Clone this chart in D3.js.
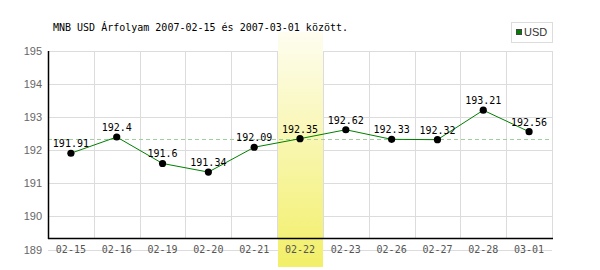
<!DOCTYPE html>
<html>
<head>
<meta charset="utf-8">
<script src="https://d3js.org/d3.v7.min.js"></script>
<style>
  body { margin: 0; background: #fff; }
</style>
</head>
<body>
<div id="chart"></div>
<script>
// data
var days = ["02-15", "02-16", "02-19", "02-20", "02-21", "02-22", "02-23", "02-26", "02-27", "02-28", "03-01"];
var rates = [191.91, 192.4, 191.6, 191.34, 192.09, 192.35, 192.62, 192.33, 192.32, 193.21, 192.56];
var yTicks = [189, 190, 191, 192, 193, 194, 195];
var markedDay = "02-22";
var refRate = 192.35;

var W = 600, H = 270;
var plotL = 48, plotR = 552, plotT = 51, axisY = 238;

var svg = d3.select("#chart").append("svg")
  .attr("width", W).attr("height", H);

var x = d3.scaleBand().domain(days).range([plotL, plotR]);
var y = d3.scaleLinear().domain([189, 195]).range([249.5, plotT]);

// gradient for the highlighted day
var grad = svg.append("defs").append("linearGradient")
  .attr("id", "hl").attr("x1", 0).attr("y1", 0).attr("x2", 0).attr("y2", 1);
grad.append("stop").attr("offset", "0%").attr("stop-color", "#fefdf0");
grad.append("stop").attr("offset", "100%").attr("stop-color", "#f2ef68");

// grid
svg.append("g").selectAll("line")
  .data(yTicks).enter().append("line")
  .attr("x1", plotL).attr("x2", plotR)
  .attr("y1", function(d) { return Math.round(y(d)) + 0.5; })
  .attr("y2", function(d) { return Math.round(y(d)) + 0.5; })
  .attr("stroke", "#dcdcdc").attr("stroke-width", 1);

svg.append("g").selectAll("line")
  .data(days).enter().append("line")
  .attr("x1", function(d) { return Math.round(x(d) + x.step()) + 0.5; })
  .attr("x2", function(d) { return Math.round(x(d) + x.step()) + 0.5; })
  .attr("y1", plotT).attr("y2", axisY)
  .attr("stroke", "#dcdcdc").attr("stroke-width", 1);

// highlighted day band
svg.append("rect")
  .attr("x", Math.round(x(markedDay)) + 1)
  .attr("y", 32)
  .attr("width", Math.round(x.bandwidth()) - 1)
  .attr("height", 235)
  .attr("fill", "url(#hl)");

// reference dashed line
svg.append("line")
  .attr("x1", plotL).attr("x2", plotR)
  .attr("y1", Math.round(y(refRate)) + 0.5).attr("y2", Math.round(y(refRate)) + 0.5)
  .attr("stroke", "#9fcf9f").attr("stroke-dasharray", "4,3");

// axes lines
svg.append("line")
  .attr("x1", plotL + 0.5).attr("x2", plotL + 0.5).attr("y1", plotT).attr("y2", axisY + 1)
  .attr("stroke", "#000").attr("stroke-width", 1.5);
svg.append("line")
  .attr("x1", plotL).attr("x2", plotR + 1).attr("y1", axisY + 0.5).attr("y2", axisY + 0.5)
  .attr("stroke", "#000").attr("stroke-width", 1.5);

// y tick labels
svg.append("g").selectAll("text")
  .data(yTicks).enter().append("text")
  .attr("x", 42).attr("y", function(d) { return y(d) + 4; })
  .attr("text-anchor", "end")
  .style("font", "11px 'Liberation Sans', Arial, sans-serif")
  .attr("fill", "#666")
  .text(function(d) { return d; });

// x tick labels
svg.append("g").selectAll("text")
  .data(days).enter().append("text")
  .attr("x", function(d) { return x(d) + x.bandwidth() / 2; })
  .attr("y", 253)
  .attr("text-anchor", "middle")
  .style("font", "10px 'DejaVu Sans Mono', monospace")
  .attr("fill", "#555")
  .text(function(d) { return d; });

// line
var line = d3.line()
  .x(function(d, i) { return x(days[i]) + x.bandwidth() / 2; })
  .y(function(d) { return y(d); });

svg.append("path")
  .datum(rates)
  .attr("d", line)
  .attr("fill", "none")
  .attr("stroke", "#008000")
  .attr("stroke-width", 1);

svg.append("g").selectAll("circle")
  .data(rates).enter().append("circle")
  .attr("cx", function(d, i) { return x(days[i]) + x.bandwidth() / 2; })
  .attr("cy", function(d) { return y(d); })
  .attr("r", 3.6)
  .attr("fill", "#000");

svg.append("g").selectAll("text")
  .data(rates).enter().append("text")
  .attr("x", function(d, i) { return x(days[i]) + x.bandwidth() / 2; })
  .attr("y", function(d) { return y(d) - 6; })
  .attr("text-anchor", "middle")
  .style("font", "10px 'DejaVu Sans Mono', monospace")
  .attr("fill", "#000")
  .text(function(d) { return d; });

// title
svg.append("text")
  .attr("x", 53).attr("y", 31)
  .style("font", "10px 'DejaVu Sans Mono', monospace")
  .attr("fill", "#000")
  .text("MNB USD Árfolyam 2007-02-15 és 2007-03-01 között.");

// legend
var lg = svg.append("g");
lg.append("rect")
  .attr("x", 511.5).attr("y", 22.5).attr("width", 41).attr("height", 20)
  .attr("fill", "#fff").attr("stroke", "#dcdcdc");
lg.append("rect")
  .attr("x", 516.5).attr("y", 29.5).attr("width", 5).attr("height", 5)
  .attr("fill", "#008000").attr("stroke", "#444");
lg.append("text")
  .attr("x", 524).attr("y", 36)
  .style("font", "11px 'Liberation Sans', Arial, sans-serif")
  .attr("fill", "#333")
  .text("USD");
</script>
</body>
</html>
